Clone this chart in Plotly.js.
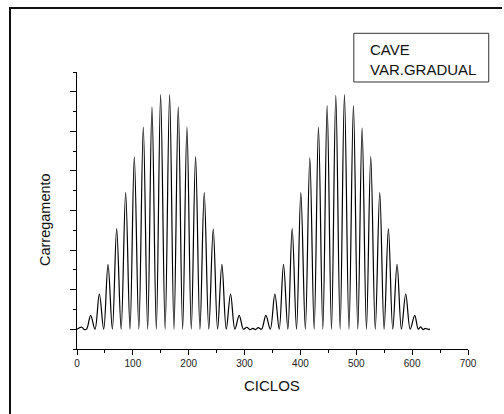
<!DOCTYPE html>
<html>
<head>
<meta charset="utf-8">
<script src="https://cdn.plot.ly/plotly-3.0.1.min.js"></script>
<style>
  html, body { margin: 0; padding: 0; background: #fff; overflow: hidden; }
  #wrap { position: relative; width: 504px; height: 414px; overflow: hidden; }
  #chart { position: absolute; left: 0; top: 0; width: 504px; height: 414px; }
  /* page frame: left and top edges of the sheet border */
  .edge { position: absolute; background: #111; pointer-events: none; }
  #edgeLeft { left: 9px; top: 7px; width: 2px; height: 407px; }
  #edgeTop { left: 9px; top: 7px; width: 493px; height: 2px; }
</style>
</head>
<body>
<div id="wrap">
  <div id="chart"></div>
  <div class="edge" id="edgeLeft"></div>
  <div class="edge" id="edgeTop"></div>
</div>
<script>
// Turning points of the load signal (peaks and valleys), in cycles.
const turnX = [
  0, 8.5, 13.5, 17.5,
  24.4, 32.2, 40.0, 47.8, 55.5, 63.3, 71.0, 79.0, 87.1, 94.9, 102.6, 110.7,
  118.7, 126.5, 134.2, 142.0, 149.7, 157.8, 165.8, 173.6, 181.3, 189.1,
  196.8, 204.6, 212.3, 220.1, 227.8, 235.9, 243.9, 251.7, 259.4, 267.2,
  274.9, 282.7, 290.4,
  298.0, 304.0, 309.5, 315.0, 319.5, 324.5, 330.5,
  338.1, 346.1, 354.2, 362.0, 369.7, 377.5, 385.2, 393.0, 400.7, 408.8,
  416.8, 424.6, 432.3, 440.1, 447.8, 455.6, 463.3, 471.1, 478.8, 486.9,
  494.9, 502.7, 510.4, 518.2, 525.9, 534.0, 542.0, 549.8, 557.5, 565.3,
  573.0, 580.8, 588.5, 596.6, 604.6,
  611.0, 615.0, 619.5, 623.5, 627.5, 632.0
];
const turnY = [
  0, 0.05, -0.01, 0.01,
  0.35, 0, 0.89, 0, 1.64, 0, 2.54, 0, 3.45, 0, 4.35, 0,
  5.11, 0, 5.62, 0, 5.93, 0, 5.93, 0, 5.62, 0,
  5.11, 0, 4.36, 0, 3.45, 0, 2.53, 0, 1.64, 0,
  0.89, 0, 0.35,
  0, 0.05, -0.01, 0.02, -0.01, 0.04, 0,
  0.35, 0, 0.89, 0, 1.64, 0, 2.54, 0, 3.45, 0,
  4.33, 0, 5.11, 0, 5.65, 0, 5.91, 0, 5.93, 0,
  5.65, 0, 5.09, 0, 4.36, 0, 3.45, 0, 2.54, 0,
  1.64, 0, 0.89, 0, 0.35,
  0, 0.06, -0.01, 0.02, 0, 0
];

const xTickVals = [0, 100, 200, 300, 400, 500, 600, 700];
const legendLines = ['CAVE', 'VAR.GRADUAL'];

const FONT = 'Liberation Sans, Arial, Helvetica, sans-serif';

const trace = {
  x: turnX,
  y: turnY,
  type: 'scatter',
  mode: 'lines',
  line: { color: '#000', width: 1.2, shape: 'spline', smoothing: 1 },
  hoverinfo: 'skip'
};

const layout = {
  width: 504,
  height: 414,
  margin: { l: 77, r: 36, t: 72, b: 65, pad: 0 },
  paper_bgcolor: '#fff',
  plot_bgcolor: '#fff',
  showlegend: false,
  font: { family: FONT, color: '#111' },
  xaxis: {
    range: [0, 700],
    tickvals: xTickVals,
    ticktext: xTickVals.map(String),
    ticks: 'outside',
    ticklen: 5,
    tickwidth: 1,
    tickcolor: '#000',
    minor: { ticks: 'outside', ticklen: 3, dtick: 50, tick0: 0, tickcolor: '#000' },
    showline: true,
    linecolor: '#000',
    linewidth: 1,
    showgrid: false,
    zeroline: false,
    automargin: false,
    tickfont: { family: FONT, size: 10, color: '#222' },
    fixedrange: true
  },
  yaxis: {
    range: [-0.5, 6.5],
    tick0: 0,
    dtick: 1,
    ticks: 'outside',
    ticklen: 6,
    tickwidth: 1,
    tickcolor: '#000',
    minor: { ticks: 'outside', ticklen: 3, dtick: 0.5, tick0: 0, tickcolor: '#000' },
    showticklabels: false,
    showline: true,
    linecolor: '#000',
    linewidth: 1,
    showgrid: false,
    zeroline: false,
    automargin: false,
    fixedrange: true
  },
  shapes: [
    // legend box
    { type: 'rect', xref: 'paper', yref: 'paper',
      x0: 0.708, x1: 1.053, y0: 0.9639, y1: 1.1397,
      line: { color: '#333', width: 1 }, fillcolor: 'rgba(0,0,0,0)' }
  ],
  annotations: [
    { text: legendLines[0], xref: 'paper', yref: 'paper', x: 0.7436, y: 1.083,
      xanchor: 'left', yanchor: 'middle', showarrow: false,
      font: { family: FONT, size: 15, color: '#111' } },
    { text: legendLines[1], xref: 'paper', yref: 'paper', x: 0.7436, y: 1.0108,
      xanchor: 'left', yanchor: 'middle', showarrow: false,
      font: { family: FONT, size: 15, color: '#111' } },
    { text: 'Carregamento', xref: 'paper', yref: 'paper', x: -0.0818, y: 0.4657,
      xanchor: 'center', yanchor: 'middle', textangle: -90, showarrow: false,
      font: { family: FONT, size: 14.5, color: '#111' } },
    { text: 'CICLOS', xref: 'paper', yref: 'paper', x: 0.4996, y: -0.130,
      xanchor: 'center', yanchor: 'middle', showarrow: false,
      font: { family: FONT, size: 15, color: '#111' } }
  ]
};

Plotly.newPlot('chart', [trace], layout, { displayModeBar: false, staticPlot: true });
</script>
</body>
</html>
